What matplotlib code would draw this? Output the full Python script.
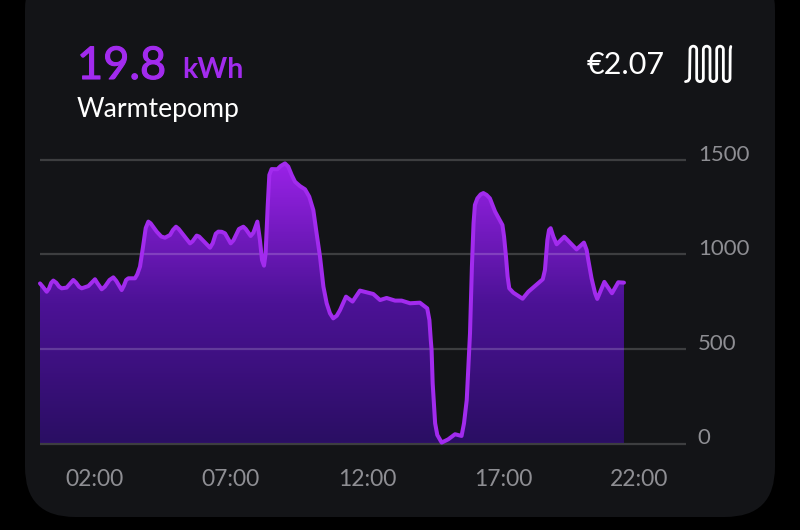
import numpy as np
import matplotlib
matplotlib.use("Agg")
import matplotlib.pyplot as plt
import matplotlib.patheffects as pe
from matplotlib.patches import FancyBboxPatch
from matplotlib.colors import LinearSegmentedColormap
from matplotlib.transforms import ScaledTranslation

hours = [0, 0.10, 0.245, 0.33, 0.41, 0.489, 0.60, 0.70, 0.795, 0.978, 1.10, 1.223, 1.33, 1.43,
         1.529, 1.774, 1.90, 2.018, 2.10, 2.263, 2.38, 2.55, 2.691, 2.80, 2.997, 3.08, 3.16,
         3.242, 3.486, 3.57, 3.67, 3.78, 3.88, 3.976, 4.06, 4.282, 4.45, 4.587, 4.771, 4.88,
         4.991, 5.09, 5.505, 5.60, 5.749, 5.84, 6.239, 6.34, 6.45, 6.544, 6.67, 6.789, 6.997,
         7.10, 7.30, 7.462, 7.55, 7.731, 7.83, 7.976, 8.07, 8.147, 8.22, 8.28, 8.355, 8.416,
         8.50, 8.709, 8.83, 8.99, 9.11, 9.235, 9.358, 9.54, 9.725, 9.88, 10.03, 10.15,
         10.275, 10.40, 10.52, 10.64, 10.76, 10.89, 11.01, 11.23, 11.47, 11.74, 12.23, 12.48,
         12.72, 13.03, 13.27, 13.58, 13.94, 14.21, 14.29, 14.34, 14.37, 14.41, 14.50, 14.58,
         14.74, 14.98, 15.23, 15.47, 15.56, 15.66, 15.72, 15.78, 15.85, 15.91, 15.96, 16.05,
         16.17, 16.27, 16.39, 16.51, 16.70, 16.97, 17.03, 17.10, 17.16, 17.22, 17.37, 17.71,
         17.92, 18.45, 18.53, 18.62, 18.68, 18.74, 18.84, 18.96, 19.24, 19.69, 19.96, 20.06,
         20.12, 20.24, 20.37, 20.45, 20.71, 20.99, 21.22, 21.43]
power = [847, 830, 803, 820, 850, 862, 850, 830, 821, 825, 845, 865, 850, 830,
         821, 833, 852, 869, 850, 816, 830, 865, 879, 860, 812, 835, 865,
         874, 874, 895, 936, 1040, 1140, 1174, 1165, 1121, 1095, 1089, 1103, 1130,
         1147, 1135, 1059, 1070, 1100, 1095, 1036, 1060, 1110, 1121, 1120, 1112, 1059,
         1075, 1135, 1147, 1135, 1098, 1115, 1174, 1077, 971, 941, 1006, 1253, 1421,
         1452, 1451, 1468, 1482, 1465, 1421, 1385, 1362, 1345, 1306, 1235, 1112,
         989, 830, 742, 689, 662, 676, 706, 777, 751, 809, 791, 759,
         770, 756, 756, 742, 745, 715, 653, 548, 495, 318, 107, 45,
         5, 22, 49, 40, 107, 230, 407, 583, 936, 1165, 1262, 1297,
         1318, 1325, 1315, 1297, 1227, 1156, 1094, 989, 883, 821, 798, 766,
         803, 869, 918, 1077, 1130, 1139, 1094, 1054, 1094, 1027, 1063, 1024,
         971, 874, 795, 765, 855, 795, 853, 851]
y_ticks = [0, 500, 1000, 1500]
x_tick_hours = [2, 7, 12, 17, 22]
x_tick_labels = ["02:00", "07:00", "12:00", "17:00", "22:00"]

W, H = 800, 530
PURPLE = "#A22BEE"
CARD = "#131417"
TICK = "#8E8E93"
plt.rcParams["font.family"] = ["Lato", "DejaVu Sans"]

fig = plt.figure(figsize=(8, 5.3), dpi=100, facecolor="black")

bg = fig.add_axes([0, 0, 1, 1])
bg.set_xlim(0, W)
bg.set_ylim(H, 0)
bg.axis("off")
bg.add_patch(FancyBboxPatch((25, -40), 750, 557, boxstyle="round,pad=0,rounding_size=50",
                            fc=CARD, ec="none"))

big = bg.text(77, 79, "19.8", color=PURPLE, fontsize=32.5, va="baseline", ha="left")
big.set_path_effects([pe.withStroke(linewidth=0.8, foreground=PURPLE)])
bg.text(182, 78, "kWh", color=PURPLE, fontsize=20.5, va="baseline", ha="left", fontweight="bold")
bg.text(77, 117, "Warmtepomp", color="white", fontsize=19.2, va="baseline", ha="left")
bg.text(665, 74, "€2.07", color="white", fontsize=22, va="baseline", ha="right")

# radiator icon
xs, ys = [685.5, 688, 689.6], [81.6, 81, 78.5]
left = 690.0
step = 6.67
for i in range(6):
    a = np.linspace(np.pi, 0, 10)
    cx = left + step * (i + 0.5)
    xs += list(cx + step / 2 * np.cos(a))
    if i % 2 == 0:
        ys += list(49.5 - step / 2 * np.sin(a))
    else:
        ys += list(78.3 + step / 2 * np.sin(a))
xs += [730.2, 730.8]
ys += [49.5, 46.5]
bg.plot(xs, ys, color="white", lw=2.0, solid_capstyle="round", solid_joinstyle="round")

# data axes: x 40..686 px, y 160..443.5 px
ax = fig.add_axes([40 / W, 1 - 443.5 / H, 646 / W, 283.5 / H])
ax.patch.set_alpha(0)
for s in ax.spines.values():
    s.set_visible(False)
ax.set_yticks(y_ticks)
ax.set_xticks(x_tick_hours)
ax.set_xticklabels(x_tick_labels)
ax.tick_params(axis="both", length=0, labelcolor=TICK)
ax.tick_params(axis="x", pad=18, labelsize=16.5)
ax.tick_params(axis="y", labelright=True, labelleft=False, pad=8.5, labelsize=16)
for lab in ax.get_yticklabels():
    lab.set_transform(lab.get_transform() + ScaledTranslation(0, 7 / 100, fig.dpi_scale_trans))
ax.set_axisbelow(False)
ax.grid(axis="y", color="white", alpha=0.18, lw=1.6, clip_on=False, solid_capstyle="butt")

cmap = LinearSegmentedColormap.from_list("fill", ["#2A0E63", "#4C1296", "#9A22E8"])
poly = ax.fill_between(hours, 0, power, color="none", zorder=2)
img = ax.imshow(np.linspace(0, 1, 256).reshape(-1, 1), extent=[0, hours[-1], 0, max(power)],
                origin="lower", aspect="auto", cmap=cmap, zorder=2)
img.set_clip_path(poly.get_paths()[0], transform=ax.transData)
ax.set_xlim(0, 646 / 27.25)
ax.set_ylim(0, 1500)
ax.plot(hours, power, color=PURPLE, lw=2.9, solid_joinstyle="round", solid_capstyle="round",
        zorder=3, clip_on=False)

fig.savefig("out.png", dpi=100, facecolor=fig.get_facecolor())
